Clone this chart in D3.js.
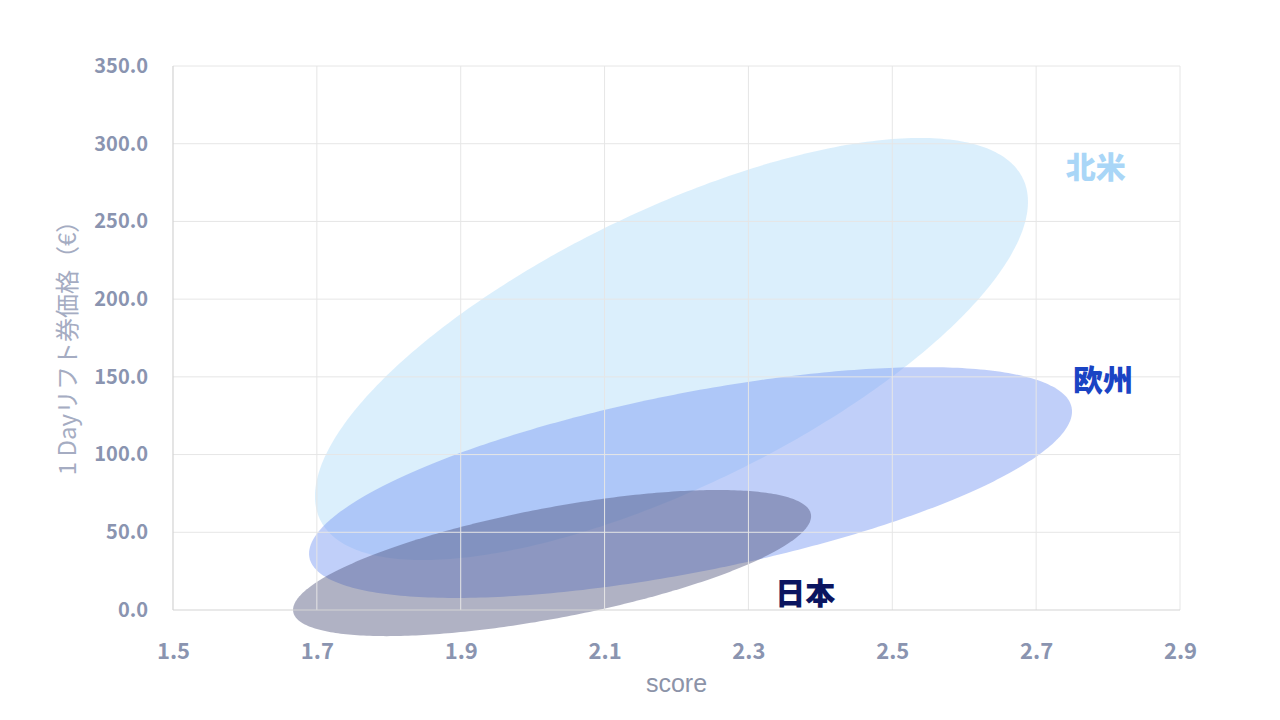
<!DOCTYPE html>
<html><head><meta charset="utf-8">
<script src="https://cdn.jsdelivr.net/npm/d3@7"></script>
<style>html,body{margin:0;padding:0;background:#fff;}svg{display:block;}</style>
</head><body>
<svg id="c" width="1280" height="720"></svg>
<script>
// Regions (ellipses in data space: center + major/minor semi-axis vectors)
const regions = ["北米", "欧州", "日本"];
const centerScore = [2.193, 2.2195, 2.027];
const centerPrice = [167.9, 82.0, 30.2];
const majorScore = [0.4885, 0.5298, 0.3598];
const majorPrice = [109.8, 48.3, 31.5];
const minorScore = [-0.0838, -0.0240, -0.0143];
const minorPrice = [79.9, 56.4, 34.9];
const labelScore = [2.783, 2.793, 2.379];
const labelPrice = [286.3, 149.3, 12.0];
const fillColors = ["#a6d6f8", "#819ff3", "#4a4f78"];
const fillOpacity = [0.4, 0.5, 0.44];
const labelColors = ["#a9d6f7", "#1a44c4", "#0b1560"];
const xTicks = [1.5, 1.7, 1.9, 2.1, 2.3, 2.5, 2.7, 2.9];
const yTicks = [0, 50, 100, 150, 200, 250, 300, 350];
const xTitle = "score";
const yTitle = "1 Dayリフト券価格（€）";

const svg = d3.select("#c");
const m = {l: 173, r: 1180, t: 66, b: 610};
const x = d3.scaleLinear().domain([1.5, 2.9]).range([m.l, m.r]);
const y = d3.scaleLinear().domain([0, 350]).range([m.b, m.t]);
const jp = "'Noto Sans CJK JP', 'Noto Sans', sans-serif";

// ellipses
const line = d3.line().curve(d3.curveLinearClosed);
const ts = d3.range(0, 360, 1).map(d => d * Math.PI / 180);
regions.forEach((r, i) => {
  const pts = ts.map(t => [
    x(centerScore[i] + majorScore[i] * Math.cos(t) + minorScore[i] * Math.sin(t)),
    y(centerPrice[i] + majorPrice[i] * Math.cos(t) + minorPrice[i] * Math.sin(t))
  ]);
  svg.append("path").attr("d", line(pts))
    .attr("fill", fillColors[i]).attr("fill-opacity", fillOpacity[i]);
});

// grid (on top)
svg.append("g").selectAll("line").data(yTicks.filter(d => d > 0)).join("line")
  .attr("x1", m.l).attr("x2", m.r).attr("y1", d => y(d)).attr("y2", d => y(d))
  .attr("stroke", "#e6e6e6").attr("stroke-width", 1);
svg.append("g").selectAll("line").data(xTicks.filter(d => d > 1.5)).join("line")
  .attr("y1", m.t).attr("y2", m.b).attr("x1", d => x(d)).attr("x2", d => x(d))
  .attr("stroke", "#e6e6e6").attr("stroke-width", 1);
// axes lines
svg.append("line").attr("x1", m.l).attr("x2", m.r).attr("y1", y(0)).attr("y2", y(0))
  .attr("stroke", "#d3d3d3").attr("stroke-width", 1.2);
svg.append("line").attr("x1", x(1.5)).attr("x2", x(1.5)).attr("y1", m.t).attr("y2", m.b)
  .attr("stroke", "#d3d3d3").attr("stroke-width", 1.2);

// tick labels
const xAxis = d3.axisBottom(x).tickValues(xTicks).tickFormat(d3.format(".1f")).tickSize(0).tickPadding(33);
const gx = svg.append("g").attr("transform", `translate(0,${m.b})`).call(xAxis);
gx.select(".domain").remove();
gx.selectAll("text").attr("font-family", jp).attr("font-size", 22).attr("font-weight", 700).attr("fill", "#8a94b0");

const yAxis = d3.axisLeft(y).tickValues(yTicks).tickFormat(d3.format(".1f")).tickSize(0).tickPadding(25);
const gy = svg.append("g").attr("transform", `translate(${m.l},0)`).call(yAxis);
gy.select(".domain").remove();
gy.selectAll("text").attr("font-family", jp).attr("font-size", 20).attr("font-weight", 700).attr("fill", "#8a94b0");

// titles
svg.append("text").attr("x", (m.l + m.r) / 2).attr("y", 692).attr("text-anchor", "middle")
  .attr("font-family", "'Liberation Sans', Arial, sans-serif").attr("font-size", 25).attr("fill", "#8c93a8").text(xTitle);
svg.append("text").attr("transform", `translate(76,${(m.t + m.b) / 2 + 4}) rotate(-90)`).attr("text-anchor", "middle")
  .attr("font-family", jp).attr("font-size", 24).attr("font-weight", 400).attr("fill", "#a5acc2").text(yTitle);

// region labels
regions.forEach((r, i) => {
  svg.append("text").attr("x", x(labelScore[i])).attr("y", y(labelPrice[i]))
    .attr("text-anchor", "middle").attr("dominant-baseline", "central")
    .attr("font-family", jp).attr("font-size", 30).attr("font-weight", 900)
    .attr("fill", labelColors[i]).text(r);
});
</script>
</body></html>
